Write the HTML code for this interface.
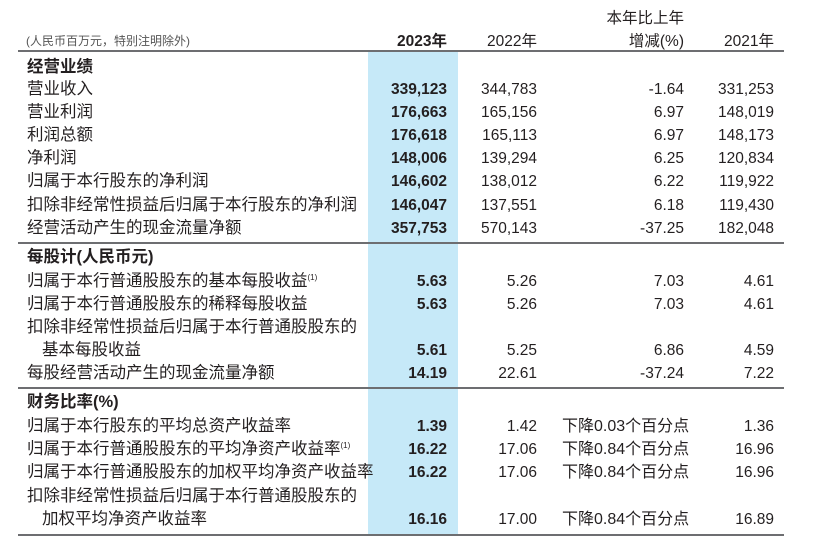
<!DOCTYPE html>
<html><head><meta charset="utf-8"><style>
body{margin:0;width:815px;height:544px;background:#fff;position:relative;overflow:hidden;font-family:"Liberation Sans","Noto Sans CJK SC",sans-serif;color:#231f20;}
.hl{position:absolute;left:368px;top:52px;width:90px;height:484px;background:#c6e9f8;}
.line{position:absolute;left:18px;width:766px;height:2px;background:#6d6e71;}
.r{position:absolute;left:0;width:815px;height:23px;font-size:15.5px;line-height:23px;}
.r span{position:absolute;white-space:nowrap;top:0;}
.l{left:27px;font-size:16.5px;}
.c1{right:368px;font-weight:bold;}
.c2{right:278px;}
.c3{right:131px;}
.c4{right:41px;}
.c3l{left:562px;font-size:16px;}
.sec{font-weight:bold;}
sup{font-size:8px;line-height:0;position:relative;top:-6px;vertical-align:baseline;}
.hd{position:absolute;font-size:15.5px;white-space:nowrap;}
</style></head><body>
<div class="hl"></div>
<div class="hd" style="left:26px;top:32px;font-size:12px;color:#555;">(人民币百万元，特别注明除外)</div>
<div class="hd" style="right:368px;top:29px;font-weight:bold;">2023年</div>
<div class="hd" style="right:278px;top:29px;">2022年</div>
<div class="hd" style="right:131px;top:6px;">本年比上年</div>
<div class="hd" style="right:131px;top:29px;">增减(%)</div>
<div class="hd" style="right:41px;top:29px;">2021年</div>
<div class="line" style="top:50px;"></div>
<div class="line" style="top:242px;"></div>
<div class="line" style="top:387px;"></div>
<div class="line" style="top:534px;"></div>

<div class="r" style="top:56px"><span class="l sec">经营业绩</span></div>
<div class="r" style="top:78px"><span class="l">营业收入</span><span class="c1">339,123</span><span class="c2">344,783</span><span class="c3">-1.64</span><span class="c4">331,253</span></div>
<div class="r" style="top:101px"><span class="l">营业利润</span><span class="c1">176,663</span><span class="c2">165,156</span><span class="c3">6.97</span><span class="c4">148,019</span></div>
<div class="r" style="top:124px"><span class="l">利润总额</span><span class="c1">176,618</span><span class="c2">165,113</span><span class="c3">6.97</span><span class="c4">148,173</span></div>
<div class="r" style="top:147px"><span class="l">净利润</span><span class="c1">148,006</span><span class="c2">139,294</span><span class="c3">6.25</span><span class="c4">120,834</span></div>
<div class="r" style="top:170px"><span class="l">归属于本行股东的净利润</span><span class="c1">146,602</span><span class="c2">138,012</span><span class="c3">6.22</span><span class="c4">119,922</span></div>
<div class="r" style="top:194px"><span class="l">扣除非经常性损益后归属于本行股东的净利润</span><span class="c1">146,047</span><span class="c2">137,551</span><span class="c3">6.18</span><span class="c4">119,430</span></div>
<div class="r" style="top:217px"><span class="l">经营活动产生的现金流量净额</span><span class="c1">357,753</span><span class="c2">570,143</span><span class="c3">-37.25</span><span class="c4">182,048</span></div>

<div class="r" style="top:246px"><span class="l sec">每股计(人民币元)</span></div>
<div class="r" style="top:270px"><span class="l">归属于本行普通股股东的基本每股收益<sup>(1)</sup></span><span class="c1">5.63</span><span class="c2">5.26</span><span class="c3">7.03</span><span class="c4">4.61</span></div>
<div class="r" style="top:293px"><span class="l">归属于本行普通股股东的稀释每股收益</span><span class="c1">5.63</span><span class="c2">5.26</span><span class="c3">7.03</span><span class="c4">4.61</span></div>
<div class="r" style="top:316px"><span class="l">扣除非经常性损益后归属于本行普通股股东的</span></div>
<div class="r" style="top:339px"><span class="l" style="left:42px">基本每股收益</span><span class="c1">5.61</span><span class="c2">5.25</span><span class="c3">6.86</span><span class="c4">4.59</span></div>
<div class="r" style="top:362px"><span class="l">每股经营活动产生的现金流量净额</span><span class="c1">14.19</span><span class="c2">22.61</span><span class="c3">-37.24</span><span class="c4">7.22</span></div>

<div class="r" style="top:391px"><span class="l sec">财务比率(%)</span></div>
<div class="r" style="top:415px"><span class="l">归属于本行股东的平均总资产收益率</span><span class="c1">1.39</span><span class="c2">1.42</span><span class="c3l">下降0.03个百分点</span><span class="c4">1.36</span></div>
<div class="r" style="top:438px"><span class="l">归属于本行普通股股东的平均净资产收益率<sup>(1)</sup></span><span class="c1">16.22</span><span class="c2">17.06</span><span class="c3l">下降0.84个百分点</span><span class="c4">16.96</span></div>
<div class="r" style="top:461px"><span class="l">归属于本行普通股股东的加权平均净资产收益率</span><span class="c1">16.22</span><span class="c2">17.06</span><span class="c3l">下降0.84个百分点</span><span class="c4">16.96</span></div>
<div class="r" style="top:485px"><span class="l">扣除非经常性损益后归属于本行普通股股东的</span></div>
<div class="r" style="top:508px"><span class="l" style="left:42px">加权平均净资产收益率</span><span class="c1">16.16</span><span class="c2">17.00</span><span class="c3l">下降0.84个百分点</span><span class="c4">16.89</span></div>
</body></html>
